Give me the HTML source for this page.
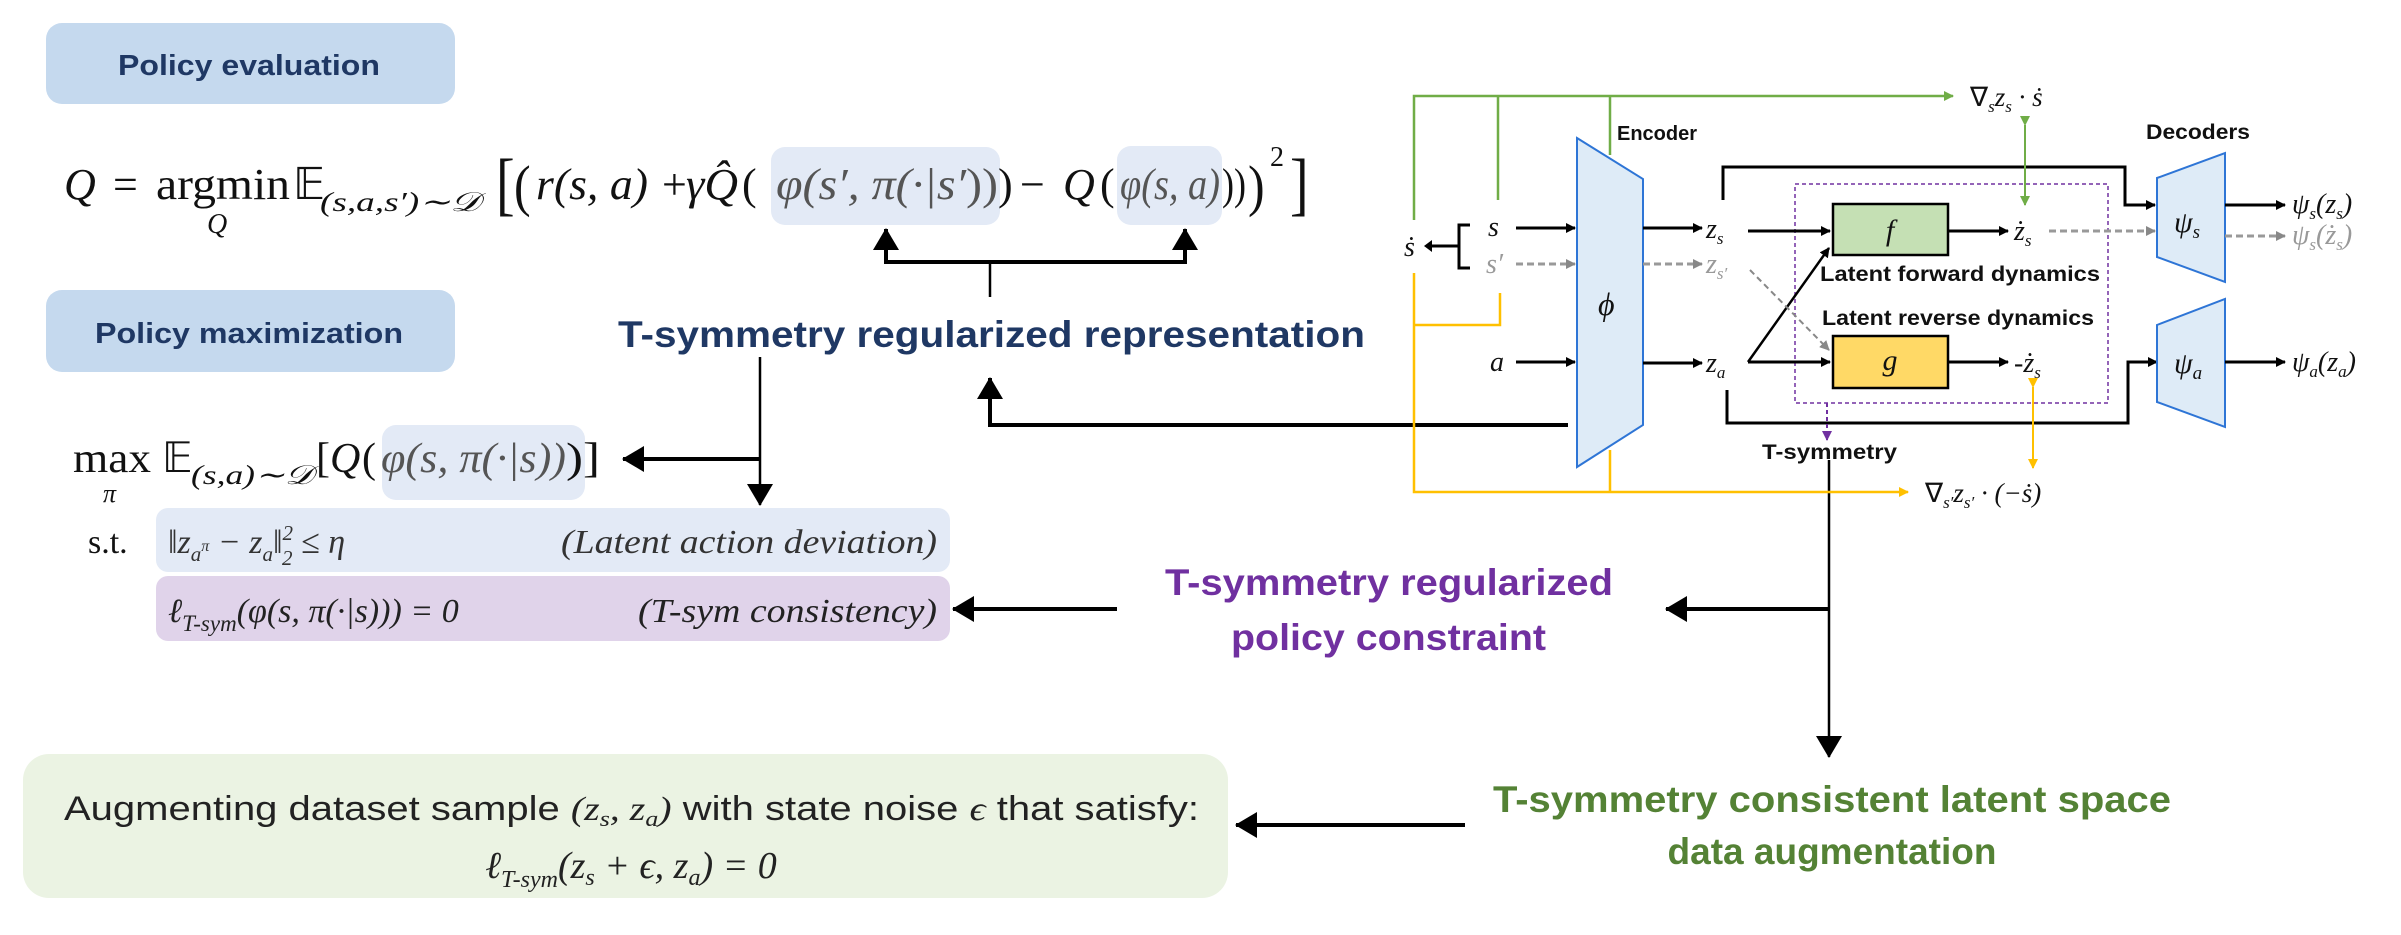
<!DOCTYPE html>
<html><head><meta charset="utf-8"><style>
html,body{margin:0;padding:0;background:#fff;}
svg{display:block;}
.m{font-family:"Liberation Serif",serif;font-style:italic;}
.r{font-family:"Liberation Serif",serif;}
.b{font-family:"Liberation Sans",sans-serif;font-weight:bold;}
.s{font-family:"Liberation Sans",sans-serif;}
</style></head><body>
<svg width="2401" height="935" viewBox="0 0 2401 935" xmlns="http://www.w3.org/2000/svg">
<defs>
<marker id="ab" markerWidth="10" markerHeight="10" refX="9" refY="5" orient="auto" markerUnits="userSpaceOnUse"><path d="M0,0 L10,5 L0,10 z" fill="#000"/></marker>
<marker id="abig" markerWidth="22" markerHeight="26" refX="21" refY="13" orient="auto" markerUnits="userSpaceOnUse"><path d="M0,0 L22,13 L0,26 z" fill="#000"/></marker>
<marker id="ag" markerWidth="10" markerHeight="10" refX="9" refY="5" orient="auto" markerUnits="userSpaceOnUse"><path d="M0,0 L10,5 L0,10 z" fill="#70ad47"/></marker>
<marker id="ay" markerWidth="10" markerHeight="10" refX="9" refY="5" orient="auto" markerUnits="userSpaceOnUse"><path d="M0,0 L10,5 L0,10 z" fill="#ffc000"/></marker>
<marker id="agr" markerWidth="10" markerHeight="10" refX="9" refY="5" orient="auto" markerUnits="userSpaceOnUse"><path d="M0,0 L10,5 L0,10 z" fill="#888"/></marker>
<marker id="ap" markerWidth="10" markerHeight="10" refX="9" refY="5" orient="auto" markerUnits="userSpaceOnUse"><path d="M0,0 L10,5 L0,10 z" fill="#7030a0"/></marker>
</defs>

<rect x="46" y="23" width="409" height="81" rx="16" fill="#c5d9ee"/>
<text x="118" y="75" class="b" font-size="29" fill="#1f3864" textLength="262" lengthAdjust="spacingAndGlyphs">Policy evaluation</text>
<rect x="46" y="290" width="409" height="82" rx="16" fill="#c5d9ee"/>
<text x="95" y="343" class="b" font-size="29" fill="#1f3864" textLength="308" lengthAdjust="spacingAndGlyphs">Policy maximization</text>

<rect x="771" y="147" width="229" height="78" rx="14" fill="#e3eaf6"/>
<rect x="1117" y="146" width="105" height="79" rx="14" fill="#e3eaf6"/>
<g font-size="44" fill="#111">
<text x="64" y="199" class="m">Q</text>
<text x="113" y="199" class="r">=</text>
<text x="156" y="199" class="r" textLength="134" lengthAdjust="spacingAndGlyphs">argmin</text>
<text x="293" y="199" class="r">𝔼</text>
<text x="320" y="211" class="m" font-size="27" textLength="160" lengthAdjust="spacingAndGlyphs">(s,a,s′)∼𝒟</text>
<text x="496" y="207" class="r" font-size="56" transform="translate(496,207) scale(1,1.25) translate(-496,-207)">[</text>
<text x="514" y="205" class="r" font-size="50" transform="translate(514,205) scale(1,1.15) translate(-514,-205)">(</text>
<text x="536" y="199" class="m" textLength="112" lengthAdjust="spacingAndGlyphs">r(s, a)</text>
<text x="662" y="199" class="r">+</text>
<text x="686" y="199" class="m" textLength="52" lengthAdjust="spacingAndGlyphs">γQ̂</text>
<text x="742" y="199" class="r">(</text>
<text x="776" y="199" class="m" fill="#555" textLength="190" lengthAdjust="spacingAndGlyphs">φ(s′, π(·|s′</text>
<text x="966" y="199" class="r" fill="#555" textLength="32" lengthAdjust="spacingAndGlyphs">))</text>
<text x="998" y="199" class="r">)</text>
<text x="1020" y="199" class="r">−</text>
<text x="1063" y="199" class="m">Q</text>
<text x="1100" y="199" class="r">(</text>
<text x="1120" y="199" class="m" fill="#555" textLength="100" lengthAdjust="spacingAndGlyphs">φ(s, a)</text>
<text x="1222" y="199" class="r" textLength="24" lengthAdjust="spacingAndGlyphs">))</text>
<text x="1248" y="205" class="r" font-size="50" transform="translate(1248,205) scale(1,1.15) translate(-1248,-205)">)</text>
<text x="1270" y="166" class="r" font-size="28">2</text>
<text x="1290" y="207" class="r" font-size="56" transform="translate(1290,207) scale(1,1.25) translate(-1290,-207)">]</text>
</g>
<text x="207" y="233" class="m" font-size="28" fill="#111">Q</text>

<path d="M886,262 L886,229" stroke="#000" stroke-width="4" fill="none" marker-end="url(#abig)"/>
<path d="M1185,262 L1185,229" stroke="#000" stroke-width="4" fill="none" marker-end="url(#abig)"/>
<path d="M884,262 L1187,262" stroke="#000" stroke-width="4"/>
<path d="M990,262 L990,297" stroke="#000" stroke-width="2.5"/>

<text x="618" y="347" class="b" font-size="37" fill="#1f3864" textLength="747" lengthAdjust="spacingAndGlyphs">T-symmetry regularized representation</text>

<path d="M1568,425 L990,425 L990,378" stroke="#000" stroke-width="4" fill="none" marker-end="url(#abig)"/>
<path d="M760,357 L760,505" stroke="#000" stroke-width="2.5" fill="none" marker-end="url(#abig)"/>
<path d="M760,459 L623,459" stroke="#000" stroke-width="4" fill="none" marker-end="url(#abig)"/>

<rect x="382" y="425" width="203" height="75" rx="14" fill="#e3eaf6"/>
<g font-size="42" fill="#111">
<text x="73" y="472" class="r" textLength="78" lengthAdjust="spacingAndGlyphs">max</text>
<text x="162" y="472" class="r">𝔼</text>
<text x="191" y="484" class="m" font-size="27" textLength="122" lengthAdjust="spacingAndGlyphs">(s,a)∼𝒟</text>
<text x="316" y="472" class="r">[</text>
<text x="330" y="472" class="m">Q</text>
<text x="362" y="472" class="r">(</text>
<text x="381" y="472" class="m" fill="#555" textLength="185" lengthAdjust="spacingAndGlyphs">φ(s, π(·|s))</text>
<text x="566" y="472" class="r" textLength="34" lengthAdjust="spacingAndGlyphs">)]</text>
</g>
<text x="103" y="502" class="m" font-size="26" fill="#111">π</text>

<rect x="156" y="508" width="794" height="64" rx="12" fill="#e3eaf6"/>
<text x="88" y="553" class="r" font-size="34" fill="#111">s.t.</text>
<text x="168" y="553" class="m" font-size="34" fill="#333">‖z<tspan font-size="21" dy="8">a</tspan><tspan font-size="16" dy="-10">π</tspan><tspan dy="2"> − z</tspan><tspan font-size="21" dy="8">a</tspan><tspan dy="-8">‖</tspan><tspan font-size="21" dy="-13">2</tspan><tspan font-size="21" dx="-11" dy="25">2</tspan><tspan dy="-12"> ≤ η</tspan></text>
<text x="561" y="553" class="m" font-size="34" fill="#333" textLength="376" lengthAdjust="spacingAndGlyphs">(Latent action deviation)</text>

<rect x="156" y="576" width="794" height="65" rx="12" fill="#e0d3ea"/>
<text x="168" y="622" class="m" font-size="34" fill="#222">ℓ<tspan font-size="23" dy="9">T-sym</tspan><tspan dy="-9">(φ(s, π(·|s))) = 0</tspan></text>
<text x="638" y="622" class="m" font-size="34" fill="#222" textLength="299" lengthAdjust="spacingAndGlyphs">(T-sym consistency)</text>

<path d="M1117,609 L953,609" stroke="#000" stroke-width="4" fill="none" marker-end="url(#abig)"/>
<text x="1165" y="595" class="b" font-size="37" fill="#7030a0" textLength="448" lengthAdjust="spacingAndGlyphs">T-symmetry regularized</text>
<text x="1231" y="650" class="b" font-size="37" fill="#7030a0" textLength="315" lengthAdjust="spacingAndGlyphs">policy constraint</text>

<path d="M1829,460 L1829,757" stroke="#000" stroke-width="2.5" fill="none" marker-end="url(#abig)"/>
<path d="M1829,609 L1666,609" stroke="#000" stroke-width="4" fill="none" marker-end="url(#abig)"/>

<text x="1832" y="812" text-anchor="middle" class="b" font-size="37" fill="#548235" textLength="678" lengthAdjust="spacingAndGlyphs">T-symmetry consistent latent space</text>
<text x="1832" y="864" text-anchor="middle" class="b" font-size="37" fill="#548235">data augmentation</text>

<rect x="23" y="754" width="1205" height="144" rx="26" fill="#ebf3e3"/>
<text x="64" y="820" class="s" font-size="34" fill="#222" textLength="1135" lengthAdjust="spacingAndGlyphs">Augmenting dataset sample <tspan class="m">(z<tspan font-size="22" dy="6">s</tspan><tspan dy="-6">, z</tspan><tspan font-size="22" dy="6">a</tspan><tspan dy="-6">)</tspan></tspan> with state noise <tspan class="m">ϵ</tspan> that satisfy:</text>
<text x="631" y="878" text-anchor="middle" class="m" font-size="38" fill="#222">ℓ<tspan font-size="24" dy="9">T-sym</tspan><tspan dy="-9">(z</tspan><tspan font-size="24" dy="7">s</tspan><tspan dy="-7"> + ϵ, z</tspan><tspan font-size="24" dy="7">a</tspan><tspan dy="-7">) = 0</tspan></text>
<path d="M1465,825 L1236,825" stroke="#000" stroke-width="4" fill="none" marker-end="url(#abig)"/>

<path d="M1414,220 L1414,96 L1953,96" stroke="#70ad47" stroke-width="2.5" fill="none" marker-end="url(#ag)"/>
<path d="M1498,96 L1498,200 M1610,96 L1610,155" stroke="#70ad47" stroke-width="2.5" fill="none"/>
<text x="1970" y="106" class="m" font-size="27" fill="#111"><tspan class="r" font-style="normal">∇</tspan><tspan font-size="17" dy="6">s</tspan><tspan dy="-6">z</tspan><tspan font-size="17" dy="6">s</tspan><tspan dy="-6"> · ṡ</tspan></text>
<path d="M1414,273 L1414,492 L1908,492" stroke="#ffc000" stroke-width="2.5" fill="none" marker-end="url(#ay)"/>
<path d="M1414,325 L1500,325 L1500,293 M1610,450 L1610,492" stroke="#ffc000" stroke-width="2.5" fill="none"/>
<text x="1925" y="502" class="m" font-size="27" fill="#111"><tspan class="r" font-style="normal">∇</tspan><tspan font-size="17" dy="6">s′</tspan><tspan dy="-6">z</tspan><tspan font-size="17" dy="6">s′</tspan><tspan dy="-6"> · (−ṡ)</tspan></text>

<text x="1617" y="140" class="b" font-size="20" fill="#111">Encoder</text>
<polygon points="1577,138 1643,179 1643,425 1577,467" fill="#deebf7" stroke="#2e75d6" stroke-width="2"/>
<text x="1598" y="315" class="m" font-size="32" fill="#111">ϕ</text>

<text x="1488" y="236" class="m" font-size="28" fill="#111">s</text>
<text x="1486" y="273" class="m" font-size="28" fill="#999">s′</text>
<path d="M1516,228 L1575,228" stroke="#000" stroke-width="3" marker-end="url(#ab)"/>
<path d="M1516,264 L1575,264" stroke="#999" stroke-width="3" stroke-dasharray="7,4" marker-end="url(#agr)"/>
<path d="M1470,225 L1459,225 L1459,268 L1470,268 M1459,246 L1432,246" stroke="#000" stroke-width="3" fill="none"/>
<path d="M1432,240 L1424,246 L1432,252 z" fill="#000"/>
<text x="1404" y="256" class="m" font-size="28" fill="#111">ṡ</text>
<text x="1490" y="371" class="m" font-size="28" fill="#111">a</text>
<path d="M1516,362 L1575,362" stroke="#000" stroke-width="3" marker-end="url(#ab)"/>

<path d="M1643,228 L1702,228" stroke="#000" stroke-width="3" marker-end="url(#ab)"/>
<path d="M1643,264 L1702,264" stroke="#999" stroke-width="3" stroke-dasharray="7,4" marker-end="url(#agr)"/>
<path d="M1643,363 L1702,363" stroke="#000" stroke-width="3" marker-end="url(#ab)"/>
<text x="1706" y="238" class="m" font-size="28" fill="#111">z<tspan font-size="17" dy="6">s</tspan></text>
<text x="1706" y="273" class="m" font-size="28" fill="#999">z<tspan font-size="17" dy="6">s′</tspan></text>
<text x="1706" y="372" class="m" font-size="28" fill="#111">z<tspan font-size="17" dy="6">a</tspan></text>

<path d="M1723,200 L1723,167 L2125,167 L2125,205 L2155,205" stroke="#000" stroke-width="3" fill="none" marker-end="url(#ab)"/>
<path d="M1727,390 L1727,423 L2128,423 L2128,362 L2157,362" stroke="#000" stroke-width="3" fill="none" marker-end="url(#ab)"/>

<rect x="1795" y="184" width="313" height="219" fill="none" stroke="#7030a0" stroke-width="1.5" stroke-dasharray="4,3"/>
<rect x="1833" y="204" width="115" height="51" fill="#c5e0b4" stroke="#000" stroke-width="2.5"/>
<text x="1890" y="240" text-anchor="middle" class="m" font-size="30" fill="#111">f</text>
<rect x="1833" y="336" width="115" height="52" fill="#ffd966" stroke="#000" stroke-width="2.5"/>
<text x="1890" y="370" text-anchor="middle" class="m" font-size="30" fill="#111">g</text>
<path d="M1748,231 L1830,231" stroke="#000" stroke-width="3" marker-end="url(#ab)"/>
<path d="M1748,362 L1830,362" stroke="#000" stroke-width="3" marker-end="url(#ab)"/>
<path d="M1748,362 L1829,248" stroke="#000" stroke-width="2.5" marker-end="url(#ab)"/>
<path d="M1750,270 L1829,350" stroke="#888" stroke-width="2" stroke-dasharray="6,4" marker-end="url(#agr)"/>
<path d="M1948,231 L2008,231" stroke="#000" stroke-width="3" marker-end="url(#ab)"/>
<path d="M1948,362 L2008,362" stroke="#000" stroke-width="3" marker-end="url(#ab)"/>
<text x="2014" y="240" class="m" font-size="28" fill="#111">ż<tspan font-size="17" dy="6">s</tspan></text>
<text x="2014" y="372" class="m" font-size="28" fill="#111">-ż<tspan font-size="17" dy="6">s</tspan></text>
<path d="M2049,231 L2155,231" stroke="#999" stroke-width="3" stroke-dasharray="7,4" marker-end="url(#agr)"/>
<text x="1820" y="281" class="b" font-size="21" fill="#111" textLength="280" lengthAdjust="spacingAndGlyphs">Latent forward dynamics</text>
<text x="1822" y="325" class="b" font-size="21" fill="#111" textLength="272" lengthAdjust="spacingAndGlyphs">Latent reverse dynamics</text>

<path d="M2025,125 L2025,205" stroke="#70ad47" stroke-width="2" fill="none" marker-start="url(#ag)" marker-end="url(#ag)"/>
<path d="M2033,387 L2033,468" stroke="#ffc000" stroke-width="2" fill="none" marker-start="url(#ay)" marker-end="url(#ay)"/>
<path d="M1827,403 L1827,440" stroke="#7030a0" stroke-width="2" stroke-dasharray="4,3" fill="none" marker-end="url(#ap)"/>
<text x="1762" y="459" class="b" font-size="21" fill="#111" textLength="135" lengthAdjust="spacingAndGlyphs">T-symmetry</text>

<text x="2146" y="139" class="b" font-size="21" fill="#111" textLength="104" lengthAdjust="spacingAndGlyphs">Decoders</text>
<polygon points="2157,178 2225,153 2225,282 2157,257" fill="#deebf7" stroke="#2e75d6" stroke-width="2"/>
<text x="2174" y="232" class="m" font-size="30" fill="#111">ψ<tspan font-size="19" dy="6">s</tspan></text>
<polygon points="2157,325 2225,299 2225,427 2157,402" fill="#deebf7" stroke="#2e75d6" stroke-width="2"/>
<text x="2174" y="373" class="m" font-size="30" fill="#111">ψ<tspan font-size="19" dy="6">a</tspan></text>
<path d="M2225,205 L2285,205" stroke="#000" stroke-width="3" marker-end="url(#ab)"/>
<path d="M2225,236 L2285,236" stroke="#999" stroke-width="3" stroke-dasharray="7,4" marker-end="url(#agr)"/>
<path d="M2225,362 L2285,362" stroke="#000" stroke-width="3" marker-end="url(#ab)"/>
<text x="2292" y="213" class="m" font-size="28" fill="#111">ψ<tspan font-size="17" dy="6">s</tspan><tspan dy="-6">(z</tspan><tspan font-size="17" dy="6">s</tspan><tspan dy="-6">)</tspan></text>
<text x="2292" y="244" class="m" font-size="28" fill="#999">ψ<tspan font-size="17" dy="6">s</tspan><tspan dy="-6">(ż</tspan><tspan font-size="17" dy="6">s</tspan><tspan dy="-6">)</tspan></text>
<text x="2292" y="371" class="m" font-size="28" fill="#111">ψ<tspan font-size="17" dy="6">a</tspan><tspan dy="-6">(z</tspan><tspan font-size="17" dy="6">a</tspan><tspan dy="-6">)</tspan></text>
</svg>
</body></html>
